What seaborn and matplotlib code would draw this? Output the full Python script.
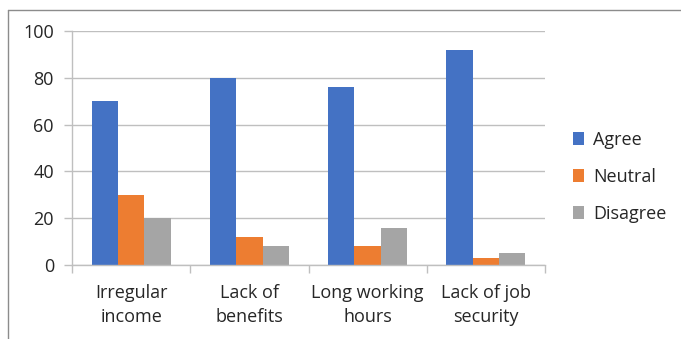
import matplotlib
matplotlib.use("Agg")
import matplotlib.pyplot as plt
from matplotlib.lines import Line2D
import seaborn as sns
import pandas as pd
import numpy as np

categories = ["Irregular\nincome", "Lack of\nbenefits", "Long working\nhours", "Lack of job\nsecurity"]
responses = ["Agree", "Neutral", "Disagree"]
agree = [70, 80, 76, 92]
neutral = [30, 12, 8, 3]
disagree = [20, 8, 16, 5]
colors = ["#4472C4", "#ED7D31", "#A5A5A5"]
y_ticks = [0, 20, 40, 60, 80, 100]

df = pd.DataFrame({
    "category": categories * 3,
    "response": [r for r in responses for _ in categories],
    "value": agree + neutral + disagree,
})

sns.set_theme(style="white")
plt.rcParams["font.family"] = ["Open Sans", "DejaVu Sans"]

fig = plt.figure(figsize=(6.81, 3.39), dpi=100)
ax = fig.add_axes([72 / 681, 1 - 265 / 339, (545 - 72) / 681, (265 - 31) / 339])

sns.barplot(data=df, x="category", y="value", hue="response", hue_order=responses,
            palette=colors, width=0.67, saturation=1, linewidth=0, ax=ax, legend=True)

ax.set_ylim(0, 100)
ax.set_xlim(-0.5, len(categories) - 0.5)
ax.set_yticks(y_ticks)
ax.set_xlabel("")
ax.set_ylabel("")
ax.yaxis.grid(True, color="#BFBFBF", linewidth=1)
ax.set_axisbelow(True)

for side in ["top", "right"]:
    ax.spines[side].set_visible(False)
for side in ["left", "bottom"]:
    ax.spines[side].set_color("#BFBFBF")
    ax.spines[side].set_linewidth(1)

ax.tick_params(axis="y", which="major", length=6, width=1, color="#BFBFBF",
               labelsize=13, labelcolor="#262626", pad=7, left=True)
ax.tick_params(axis="x", which="major", length=0, labelsize=13, labelcolor="#262626", pad=14)
for lbl in ax.get_xticklabels():
    lbl.set_linespacing(1.4)
ax.set_xticks(np.arange(-0.5, len(categories), 1.0), minor=True)
ax.tick_params(axis="x", which="minor", length=6, width=1, color="#BFBFBF", bottom=True)

handles, labels = ax.get_legend_handles_labels()
ax.legend(handles, labels, loc="center left", bbox_to_anchor=(1.025, 0.377), frameon=False,
          fontsize=13, handlelength=0.6, handleheight=0.7, labelspacing=1.05,
          handletextpad=0.5, labelcolor="#262626")

# Outer chart frame
fig.add_artist(Line2D([8 / 681, 8 / 681], [0, 1 - 10 / 339], transform=fig.transFigure,
                      color="#8C8C8C", linewidth=1))
fig.add_artist(Line2D([8 / 681, 1], [1 - 10 / 339, 1 - 10 / 339], transform=fig.transFigure,
                      color="#8C8C8C", linewidth=1))

fig.savefig("out.png", dpi=100)
